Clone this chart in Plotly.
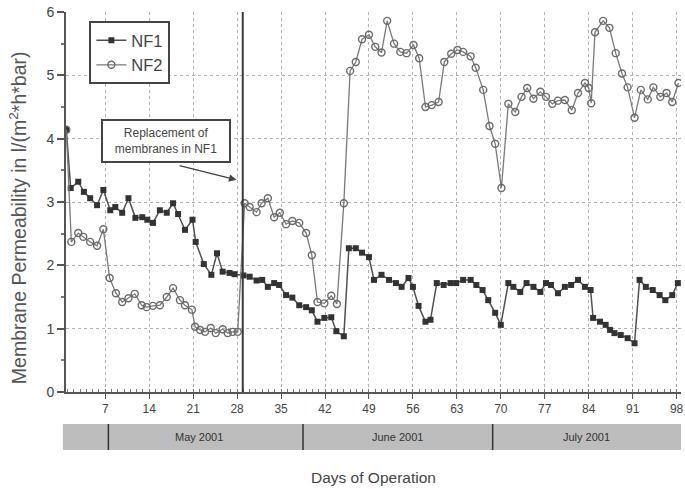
import plotly.graph_objects as go

# ---------------- data ----------------
nf1_days = [0.8, 1.5, 2.7, 3.6, 4.6, 5.7, 6.7, 7.8, 8.6, 9.7, 10.7, 11.8, 12.9, 13.7, 14.6,
            15.7, 16.8, 17.8, 18.6, 19.7, 20.9, 21.4, 22.7, 23.9, 24.8, 25.7, 26.8, 27.6,
            29.0, 30.0, 31.1, 32.0, 32.9, 33.9, 34.7, 35.8, 36.8, 37.9, 39.0, 39.9, 40.8,
            41.9, 43.0, 43.8, 45.0, 45.8, 46.9, 47.9, 49.0, 49.8, 51.0, 52.2, 53.3, 54.2,
            55.3, 56.0, 56.9, 58.0, 58.8, 59.8, 60.9, 62.0, 62.9, 64.0, 65.2, 66.1, 67.1,
            68.0, 69.1, 70.0, 71.2, 72.0, 73.1, 74.1, 75.2, 76.3, 77.2, 78.0, 79.1, 80.2,
            81.2, 82.3, 83.4, 84.3, 84.7, 85.8, 86.7, 87.4, 88.1, 89.1, 90.2, 91.3, 92.1,
            93.1, 94.2, 95.3, 96.2, 97.3, 98.2]
nf1_vals = [4.14, 3.22, 3.32, 3.16, 3.06, 2.95, 3.19, 2.87, 2.92, 2.83, 3.06, 2.75, 2.76, 2.72, 2.67,
            2.87, 2.83, 2.98, 2.81, 2.56, 2.72, 2.37, 2.02, 1.85, 2.19, 1.90, 1.88, 1.86,
            1.84, 1.82, 1.76, 1.77, 1.66, 1.72, 1.69, 1.53, 1.49, 1.37, 1.34, 1.29, 1.11,
            1.17, 1.18, 0.96, 0.88, 2.27, 2.27, 2.20, 2.13, 1.77, 1.85, 1.77, 1.72, 1.66,
            1.80, 1.66, 1.36, 1.11, 1.14, 1.72, 1.69, 1.72, 1.72, 1.77, 1.77, 1.69, 1.61,
            1.45, 1.25, 1.06, 1.72, 1.66, 1.58, 1.72, 1.66, 1.58, 1.72, 1.69, 1.56, 1.66,
            1.69, 1.77, 1.66, 1.61, 1.17, 1.11, 1.06, 0.98, 0.93, 0.90, 0.85, 0.77, 1.77,
            1.66, 1.61, 1.53, 1.45, 1.53, 1.72]

nf2_days = [0.8, 1.6, 2.7, 3.5, 4.6, 5.7, 6.7, 7.7, 8.7, 9.7, 10.7, 11.7, 12.8, 13.6, 14.6,
            15.7, 16.8, 17.8, 18.9, 19.7, 20.8, 21.3, 22.1, 22.9, 23.8, 24.6, 25.7, 26.5,
            27.3, 28.1, 29.2, 30.0, 31.1, 31.9, 32.9, 33.9, 34.8, 35.8, 36.8, 37.9, 39.0,
            39.9, 40.8, 41.9, 43.0, 43.9, 45.0, 46.0, 46.9, 47.9, 49.0, 50.0, 51.0, 51.9,
            53.0, 54.0, 55.0, 56.1, 57.0, 58.0, 59.0, 60.1, 61.0, 62.1, 63.1, 64.0, 65.2,
            66.0, 67.2, 68.2, 69.1, 70.1, 71.2, 72.3, 73.3, 74.2, 75.2, 76.3, 77.2, 78.2,
            79.1, 80.2, 81.3, 82.3, 83.4, 84.0, 84.4, 85.0, 86.3, 87.3, 88.3, 89.3, 90.2,
            91.3, 92.3, 93.4, 94.3, 95.4, 96.4, 97.3, 98.3]
nf2_vals = [4.14, 2.37, 2.51, 2.45, 2.37, 2.31, 2.57, 1.80, 1.56, 1.42, 1.48, 1.55, 1.37, 1.34, 1.36,
            1.37, 1.50, 1.64, 1.45, 1.37, 1.30, 1.03, 0.98, 0.95, 1.01, 0.93, 0.99, 0.93,
            0.95, 0.95, 2.98, 2.92, 2.84, 2.98, 3.06, 2.76, 2.83, 2.65, 2.70, 2.67, 2.51,
            2.16, 1.42, 1.40, 1.52, 1.39, 2.98, 5.07, 5.21, 5.57, 5.64, 5.45, 5.36, 5.86,
            5.50, 5.37, 5.35, 5.48, 5.27, 4.50, 4.53, 4.58, 5.21, 5.34, 5.40, 5.37, 5.30,
            5.12, 4.77, 4.20, 3.92, 3.22, 4.55, 4.42, 4.66, 4.80, 4.63, 4.74, 4.66, 4.55,
            4.60, 4.61, 4.45, 4.72, 4.88, 4.80, 4.56, 5.68, 5.86, 5.75, 5.35, 5.03, 4.81,
            4.33, 4.77, 4.62, 4.81, 4.66, 4.72, 4.58, 4.88]

x_ticks = [7, 14, 21, 28, 35, 42, 49, 56, 63, 70, 77, 84, 91, 98]
y_ticks = [0, 1, 2, 3, 4, 5, 6]
month_bounds = [7.5, 38.5, 68.7]
month_labels = ["May 2001", "June 2001", "July 2001"]
month_centers = [22.0, 53.5, 83.6]
replacement_day = 28.9

FONT = "Liberation Sans, Arial, sans-serif"

fig = go.Figure()
fig.add_trace(go.Scatter(
    x=nf1_days, y=nf1_vals, name="NF1", mode="lines+markers",
    line=dict(color="#505050", width=1.5),
    marker=dict(symbol="square", size=6, color="#333333", line=dict(width=0)),
))
fig.add_trace(go.Scatter(
    x=nf2_days, y=nf2_vals, name="NF2", mode="lines+markers",
    line=dict(color="#7a7a7a", width=1.3),
    marker=dict(symbol="circle-open", size=7, color="#6a6a6a", line=dict(width=1.4)),
))

shapes = []
# replacement line
shapes.append(dict(type="line", xref="x", yref="y", x0=replacement_day, x1=replacement_day,
                   y0=0, y1=6, line=dict(color="#3a3a3a", width=2), layer="above"))
# month band
shapes.append(dict(type="rect", xref="paper", yref="paper", x0=-0.005, x1=1.0,
                   y0=-0.1526, y1=-0.0842, fillcolor="#bdbdbd", line=dict(width=0)))
for b in month_bounds:
    shapes.append(dict(type="line", xref="x", yref="paper", x0=b, x1=b,
                       y0=-0.1526, y1=-0.0842, line=dict(color="#333333", width=1.5)))

annotations = []
for lab, c in zip(month_labels, month_centers):
    annotations.append(dict(x=c, y=-0.118, xref="x", yref="paper", text=lab, showarrow=False,
                            font=dict(family=FONT, size=11, color="#333333"),
                            xanchor="center", yanchor="middle"))
annotations.append(dict(x=0.5, y=-0.2237, xref="paper", yref="paper", text="Days of Operation",
                        showarrow=False, font=dict(family=FONT, size=15.5, color="#444444"),
                        xanchor="center", yanchor="middle"))
# y axis title
annotations.append(dict(x=-0.0777, y=0.458, xref="paper", yref="paper",
                        text="Membrane Permeability in l/(m<sup>2</sup>*h*bar)",
                        textangle=-90, showarrow=False,
                        font=dict(family=FONT, size=19.5, color="#555555"),
                        xanchor="center", yanchor="middle"))
# replacement note box
annotations.append(dict(x=16.7, y=3.96, xref="x", yref="y",
                        text="Replacement of<br>membranes in NF1", showarrow=False,
                        font=dict(family=FONT, size=12, color="#444444"),
                        bordercolor="#444444", borderwidth=2, bgcolor="white",
                        width=124, height=38, align="center"))
annotations.append(dict(x=27.9, y=3.35, xref="x", yref="y", ax=18.6, ay=3.58,
                        axref="x", ayref="y", text="", showarrow=True,
                        arrowhead=2, arrowsize=1, arrowwidth=1.5, arrowcolor="#444444"))

fig.update_layout(
    width=685, height=489,
    margin=dict(l=66, r=1, t=12, b=97),
    paper_bgcolor="white", plot_bgcolor="white",
    font=dict(family=FONT, color="#444444"),
    shapes=shapes, annotations=annotations,
    legend=dict(x=0.038, y=0.976, xanchor="left", yanchor="top",
                bordercolor="#444444", borderwidth=2, bgcolor="white",
                font=dict(family=FONT, size=16.5, color="#444444"),
                tracegroupgap=2),
    xaxis=dict(range=[0.75, 98.7], tickmode="array", tickvals=x_ticks,
               ticks="outside", ticklen=5, tickcolor="#555555", tickwidth=1,
               tickfont=dict(family=FONT, size=12, color="#444444"),
               ticklabeloverflow="allow",
               showgrid=True, gridcolor="#b0b0b0", griddash="dot", gridwidth=1,
               showline=True, linecolor="#555555", linewidth=2, zeroline=False,
               minor=dict(dtick=1, tick0=0, ticks="inside", ticklen=3, tickcolor="#777777",
                          showgrid=False)),
    yaxis=dict(range=[0, 6], tickmode="array", tickvals=y_ticks,
               ticks="outside", ticklen=7, tickcolor="#555555", tickwidth=1.5,
               tickfont=dict(family=FONT, size=14, color="#444444"),
               showgrid=True, gridcolor="#b0b0b0", griddash="dot", gridwidth=1,
               showline=True, linecolor="#555555", linewidth=2, zeroline=False,
               minor=dict(dtick=0.5, ticks="outside", ticklen=3, tickcolor="#777777",
                          showgrid=False)),
)

fig.write_html("out.html")
